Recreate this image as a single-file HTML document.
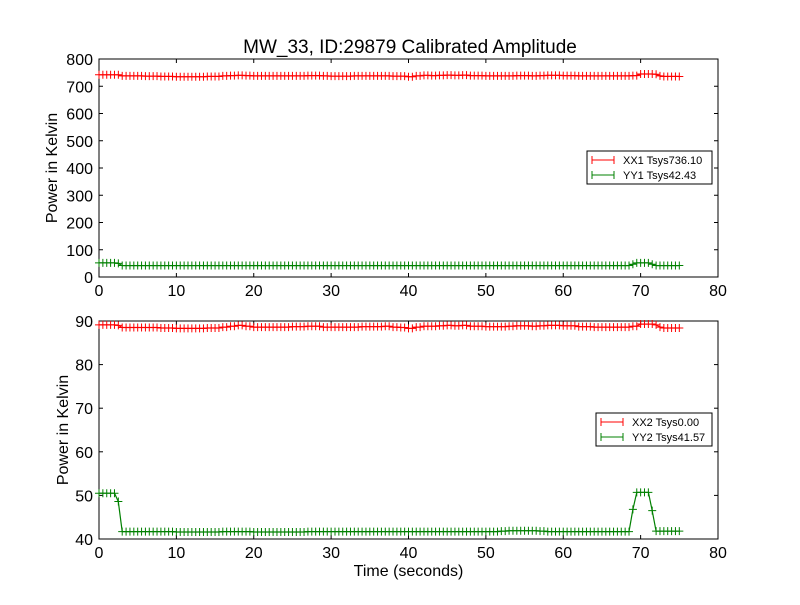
<!DOCTYPE html>
<html><head><meta charset="utf-8"><style>
body{margin:0;background:#fff;}
svg text{font-family:"Liberation Sans","DejaVu Sans",sans-serif;fill:#000;}
</style></head><body>
<svg id="chart" width="800" height="600" xmlns="http://www.w3.org/2000/svg">
<rect width="800" height="600" fill="#fff"/>
<text x="410" y="53" font-size="19" text-anchor="middle">MW_33, ID:29879 Calibrated Amplitude</text>
<g id="top"></g><g id="bot"></g>
</svg>
<script>
const times=[0,0.5,1,1.5,2,2.5,3,3.5,4,4.5,5,5.5,6,6.5,7,7.5,8,8.5,9,9.5,10,10.5,11,11.5,12,12.5,13,13.5,14,14.5,15,15.5,16,16.5,17,17.5,18,18.5,19,19.5,20,20.5,21,21.5,22,22.5,23,23.5,24,24.5,25,25.5,26,26.5,27,27.5,28,28.5,29,29.5,30,30.5,31,31.5,32,32.5,33,33.5,34,34.5,35,35.5,36,36.5,37,37.5,38,38.5,39,39.5,40,40.5,41,41.5,42,42.5,43,43.5,44,44.5,45,45.5,46,46.5,47,47.5,48,48.5,49,49.5,50,50.5,51,51.5,52,52.5,53,53.5,54,54.5,55,55.5,56,56.5,57,57.5,58,58.5,59,59.5,60,60.5,61,61.5,62,62.5,63,63.5,64,64.5,65,65.5,66,66.5,67,67.5,68,68.5,69,69.5,70,70.5,71,71.5,72,72.5,73,73.5,74,74.5,75];
const xx1=[742,742,742,742,742,742,738,738,738,738,738,738,737,737,737,737,736,736,736,736,735,735,735,735,735,735,735,735,736,736,736,736,738,738,739,739,740,740,739,739,738,738,738,738,738,738,738,738,738,738,738,738,738,738,739,739,739,739,738,738,737,737,737,737,737,737,738,738,738,738,738,738,738,738,738,738,737,737,737,737,735,735,738,738,740,740,739,739,740,740,741,741,740,740,741,741,739,739,739,739,738,738,738,738,738,738,738,738,739,739,739,739,738,738,739,739,740,740,740,740,739,739,739,739,738,738,738,738,738,738,738,738,738,738,738,738,738,738,739,739,745,745,745,745,744,738,736,736,736,736,736];
const yy1=[52,52,52,52,52,50,42,42,42,42,42,42,42,42,42,42,42,42,42,42,42,42,42,42,42,42,42,42,42,42,42,42,42,42,42,42,42,42,42,42,42,42,42,42,42,42,42,42,42,42,42,42,42,42,42,42,42,42,42,42,42,42,42,42,42,42,42,42,42,42,42,42,42,42,42,42,42,42,42,42,42,42,42,42,42,42,42,42,42,42,42,42,42,42,42,42,42,42,42,42,42,42,42,42,42,42,42,42,42,42,42,42,42,42,42,42,42,42,42,42,42,42,42,42,42,42,42,42,42,42,42,42,42,42,42,42,42,42,47,52,52,52,52,47,42,42,42,42,42,42,42];
const xx2=[89.1,89.1,89.1,89.1,89.1,89.0,88.5,88.5,88.5,88.5,88.5,88.5,88.5,88.5,88.5,88.5,88.4,88.4,88.4,88.4,88.3,88.3,88.3,88.3,88.3,88.3,88.3,88.3,88.4,88.4,88.4,88.4,88.6,88.6,88.8,88.8,89.0,89.0,88.8,88.8,88.6,88.6,88.6,88.6,88.6,88.6,88.6,88.6,88.6,88.6,88.7,88.7,88.7,88.7,88.8,88.8,88.8,88.8,88.6,88.6,88.6,88.6,88.6,88.6,88.6,88.6,88.6,88.6,88.7,88.7,88.7,88.7,88.7,88.7,88.8,88.8,88.6,88.6,88.5,88.5,88.3,88.3,88.6,88.6,88.8,88.8,88.8,88.8,88.9,88.9,89.0,89.0,88.9,88.9,89.0,89.0,88.8,88.8,88.8,88.8,88.7,88.7,88.7,88.7,88.7,88.7,88.8,88.8,88.9,88.9,88.9,88.9,88.8,88.8,88.9,88.9,89.0,89.0,89.0,89.0,88.9,88.9,88.9,88.9,88.7,88.7,88.7,88.7,88.6,88.6,88.6,88.6,88.6,88.6,88.6,88.6,88.6,88.6,88.8,88.8,89.3,89.3,89.3,89.3,89.1,88.6,88.4,88.4,88.4,88.4,88.4];
const yy2=[50.5,50.5,50.5,50.5,50.5,48.6,41.7,41.7,41.7,41.7,41.7,41.7,41.7,41.7,41.7,41.7,41.7,41.7,41.7,41.7,41.6,41.6,41.6,41.6,41.6,41.6,41.6,41.6,41.6,41.6,41.6,41.6,41.7,41.7,41.7,41.7,41.7,41.7,41.7,41.7,41.6,41.6,41.6,41.6,41.6,41.6,41.6,41.6,41.6,41.6,41.6,41.6,41.6,41.6,41.7,41.7,41.7,41.7,41.7,41.7,41.7,41.7,41.7,41.7,41.7,41.7,41.7,41.7,41.7,41.7,41.7,41.7,41.7,41.7,41.7,41.7,41.7,41.7,41.7,41.7,41.7,41.7,41.7,41.7,41.7,41.7,41.7,41.7,41.7,41.7,41.7,41.7,41.7,41.7,41.7,41.7,41.7,41.7,41.7,41.7,41.7,41.7,41.7,41.7,41.8,41.8,41.9,41.9,41.9,41.9,41.9,41.9,41.9,41.9,41.8,41.8,41.7,41.7,41.7,41.7,41.7,41.7,41.7,41.7,41.7,41.7,41.7,41.7,41.7,41.7,41.7,41.7,41.7,41.7,41.7,41.7,41.7,41.7,46.8,50.7,50.7,50.7,50.7,46.5,41.8,41.8,41.8,41.8,41.8,41.8,41.8];
const xTicks=[0,10,20,30,40,50,60,70,80];
const topYTicks=[0,100,200,300,400,500,600,700,800];
const botYTicks=[40,50,60,70,80,90];
const NS="http://www.w3.org/2000/svg";
function mk(parent,tag,attrs){const e=document.createElementNS(NS,tag);for(const k in attrs)e.setAttribute(k,attrs[k]);parent.appendChild(e);return e;}
const L=99,R=718;
function xs(v){return L+(v-0)/(80-0)*(R-L);}
function panel(g,top,bottom,ymin,ymax,yTicks,series,legend,legY,legX,legW,xlabel){
  const ys=v=>bottom-(v-ymin)/(ymax-ymin)*(bottom-top);
  const frame=mk(g,'rect',{x:L,y:top,width:R-L,height:bottom-top,fill:'none',stroke:'#000','stroke-width':1});
  
  
  xTicks.forEach(t=>{const x=xs(t);
    mk(g,'line',{x1:x,x2:x,y1:bottom,y2:bottom-4,stroke:'#000'});mk(g,'line',{x1:x,x2:x,y1:top,y2:top+4,stroke:'#000'});
    const tx=mk(g,'text',{x:x,y:bottom+19,'font-size':16,'text-anchor':'middle'});tx.textContent=t;
    
    });
  yTicks.forEach(t=>{const y=ys(t);
    mk(g,'line',{x1:L,x2:L+4,y1:y,y2:y,stroke:'#000'});mk(g,'line',{x1:R,x2:R-4,y1:y,y2:y,stroke:'#000'});
    const tx=mk(g,'text',{x:L-6,y:y+6,'font-size':16,'text-anchor':'end'});tx.textContent=t;
    
    });
  const yl=mk(g,'text',{x:0,y:0,'font-size':16,'text-anchor':'middle',transform:`translate(${yTicks[0]>=40?68:57},${(top+bottom)/2}) rotate(-90)`});
  yl.textContent='Power in Kelvin';
  
  
  if(xlabel){const xl=mk(g,'text',{x:(L+R)/2,y:576,'font-size':16,'text-anchor':'middle'});xl.textContent=xlabel;
    
    }
  series.forEach(s=>{
    const sg=mk(g,'g',{});
    
    
    const pts=times.map((t,i)=>xs(t).toFixed(1)+','+ys(s.vals[i]).toFixed(1)).join(' ');
    mk(sg,'polyline',{points:pts,fill:'none',stroke:s.color,'stroke-width':1.2});
    let d='';times.forEach((t,i)=>{const x=xs(t),y=ys(s.vals[i]);d+=`M${x-4},${y}H${x+4}M${x},${y-4}V${y+4}`;});
    mk(sg,'path',{d:d,stroke:s.color,'stroke-width':1,fill:'none'});
  });
  const lg=mk(g,'g',{});
  
  
  mk(lg,'rect',{x:legX,y:legY,width:legW,height:33,fill:'#fff',stroke:'#000','stroke-width':1});
  legend.forEach((l,i)=>{const y=legY+9+i*15;
    mk(lg,'line',{x1:legX+5,x2:legX+27,y1:y,y2:y,stroke:l.color});
    mk(lg,'path',{d:`M${legX+5},${y-4}V${y+4}M${legX+27},${y-4}V${y+4}`,stroke:l.color});
    const tx=mk(lg,'text',{x:legX+36,y:y+4,'font-size':11});tx.textContent=l.label;
    
    });
}
panel(document.getElementById('top'),59,277,0,800,topYTicks,
  [{name:'xx1-series',vals:xx1,color:'#ff0000'},{name:'yy1-series',vals:yy1,color:'#008000'}],
  [{label:'XX1 Tsys736.10',color:'#ff0000'},{label:'YY1 Tsys42.43',color:'#008000'}],151,587,125,null);
panel(document.getElementById('bot'),321,539,40,90,botYTicks,
  [{name:'xx2-series',vals:xx2,color:'#ff0000'},{name:'yy2-series',vals:yy2,color:'#008000'}],
  [{label:'XX2 Tsys0.00',color:'#ff0000'},{label:'YY2 Tsys41.57',color:'#008000'}],413,596,116,'Time (seconds)');
</script>
</body></html>
